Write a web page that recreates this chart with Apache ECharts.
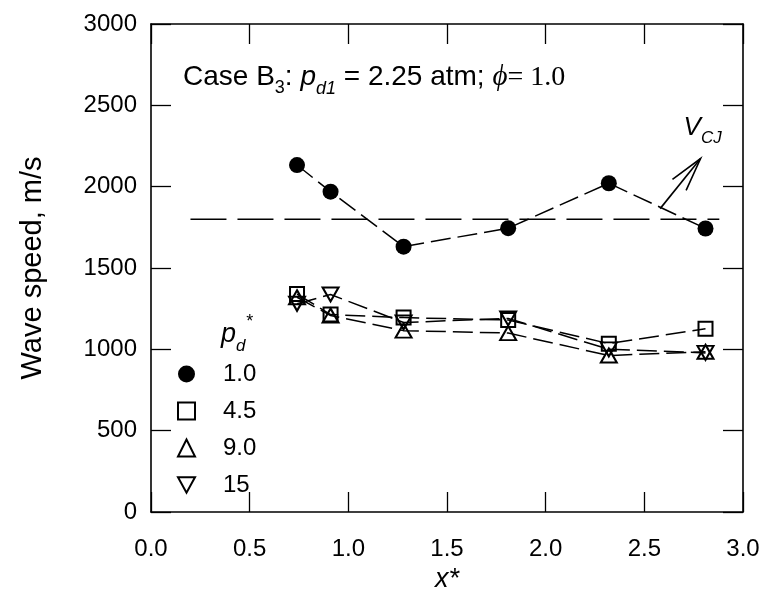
<!DOCTYPE html>
<html><head><meta charset="utf-8">
<script src="https://cdn.jsdelivr.net/npm/echarts@6/dist/echarts.min.js"></script>
<style>html,body{margin:0;padding:0;background:#fff}#c{width:763px;height:596px}</style>
</head><body><div id="c"></div>
<script>
// ---- data ----
const xStar  = [0.74, 0.91, 1.28, 1.81, 2.32, 2.81];
const pd1_0  = [2133, 1969, 1631, 1745, 2021, 1743];
const pd4_5  = [1340, 1214, 1195, 1180, 1035, 1127];
const pd9_0  = [1320, 1208, 1115, 1100, 962, 985];
const pd15   = [1280, 1337, 1165, 1190, 1000, 978];
const legendNames = ['1.0', '4.5', '9.0', '15'];
const vcjX = [0.2, 2.88];
const vcjValue = 1800;
const arrowFrom = [2.58, 1865];
const arrowTo = [2.785, 2173];
const xMin = 0, xMax = 3, xStep = 0.5;
const yMin = 0, yMax = 3000, yStep = 500;

const FONT = 'Liberation Sans, Arial, Helvetica, sans-serif';
const SERIF = 'Liberation Serif, Times New Roman, serif';
const downTri = 'path://M0,0 L10,0 L5,9 Z';

function pts(ys) { return xStar.map((x, i) => [x, ys[i]]); }

const chart = echarts.init(document.getElementById('c'), null, {renderer: 'canvas'});

function axisCommon() {
  return {
    axisLine: {show: true, onZero: false, lineStyle: {color: '#000', width: 1.6}},
    axisTick: {show: true, inside: true, length: 20, lineStyle: {color: '#000', width: 1.3}},
    splitLine: {show: false}
  };
}

function lineSeries(name, ys, symbol, size, filled) {
  return {
    name, type: 'line', data: pts(ys), symbol, symbolSize: size,
    showSymbol: true,
    itemStyle: filled ? {color: '#000', borderColor: '#000', borderWidth: 0}
                      : {color: 'rgba(255,255,255,0)', borderColor: '#000', borderWidth: 2},
    lineStyle: {color: '#000', width: 1.5, type: [20, 7]},
    emphasis: {disabled: true},
    z: 3
  };
}

const option = {
  animation: false,
  backgroundColor: '#fff',
  grid: {left: 151, right: 20, top: 24, bottom: 84, containLabel: false, outerBoundsMode: 'none'},
  xAxis: [
    Object.assign({
      type: 'value', min: xMin, max: xMax, interval: xStep, position: 'bottom',
      axisLabel: {color: '#000', fontSize: 24, fontFamily: FONT, margin: 25,
                  formatter: v => v.toFixed(1)},
      name: 'x*', nameLocation: 'middle', nameGap: 54,
      nameTextStyle: {color: '#000', fontSize: 27, fontStyle: 'italic', fontFamily: FONT}
    }, axisCommon()),
    Object.assign({
      type: 'value', min: xMin, max: xMax, interval: xStep, position: 'top',
      axisLabel: {show: false}
    }, axisCommon())
  ],
  yAxis: [
    Object.assign({
      type: 'value', min: yMin, max: yMax, interval: yStep, position: 'left',
      axisLabel: {color: '#000', fontSize: 24, fontFamily: FONT, margin: 14,
                  formatter: v => String(v)},
      name: 'Wave speed, m/s', nameLocation: 'middle', nameGap: 104, nameRotate: 90,
      nameTextStyle: {color: '#000', fontSize: 29, fontFamily: FONT}
    }, axisCommon()),
    Object.assign({
      type: 'value', min: yMin, max: yMax, interval: yStep, position: 'right',
      axisLabel: {show: false}
    }, axisCommon())
  ],
  legend: {
    orient: 'vertical', left: 172, top: 357,
    itemWidth: 17, itemHeight: 17, itemGap: 13,
    selectedMode: false,
    textStyle: {color: '#000', fontSize: 24, fontFamily: FONT, padding: [0, 0, 0, 23], lineHeight: 24},
    data: [
      {name: legendNames[0], icon: 'circle'},
      {name: legendNames[1], icon: 'rect'},
      {name: legendNames[2], icon: 'triangle'},
      {name: legendNames[3], icon: downTri}
    ]
  },
  series: [
    lineSeries(legendNames[0], pd1_0, 'circle', 16, true),
    lineSeries(legendNames[1], pd4_5, 'rect', 14, false),
    lineSeries(legendNames[2], pd9_0, 'triangle', [16, 14], false),
    lineSeries(legendNames[3], pd15, downTri, [16, 14], false),
    {
      name: 'VCJ', type: 'line', data: vcjX.map(x => [x, vcjValue]),
      symbol: 'none', lineStyle: {color: '#000', width: 1.5, type: [36, 11]},
      emphasis: {disabled: true}, z: 2
    }
  ]
};
chart.setOption(option);

// ---- annotations placed from data coordinates ----
const p0 = chart.convertToPixel({gridIndex: 0}, arrowFrom);
const p1 = chart.convertToPixel({gridIndex: 0}, arrowTo);
const dx = p1[0] - p0[0], dy = p1[1] - p0[1];
const len = Math.hypot(dx, dy);
const ux = dx / len, uy = dy / len;
const arm = 35, ang = 14.5 * Math.PI / 180;
function rot(x, y, a) { return [x * Math.cos(a) - y * Math.sin(a), x * Math.sin(a) + y * Math.cos(a)]; }
const a1 = rot(-ux, -uy, ang), a2 = rot(-ux, -uy, -ang);
const h1 = [p1[0] + a1[0] * arm, p1[1] + a1[1] * arm];
const h2 = [p1[0] + a2[0] * arm, p1[1] + a2[1] * arm];

chart.setOption({
  graphic: [
    {type: 'line', shape: {x1: p0[0], y1: p0[1], x2: p1[0], y2: p1[1]},
     style: {stroke: '#000', lineWidth: 1.6}, z: 10},
    {type: 'polyline', shape: {points: [h1, p1, h2]},
     style: {stroke: '#000', lineWidth: 1.6, fill: null}, z: 10},
    {type: 'text', left: p1[0] - 17, top: p1[1] - 44, z: 10,
     style: {
       text: '{v|V}{s|CJ}', fill: '#000',
       rich: {
         v: {fontSize: 26, fontStyle: 'italic', fontFamily: FONT, lineHeight: 30, verticalAlign: 'top'},
         s: {fontSize: 17, fontStyle: 'italic', fontFamily: FONT, lineHeight: 32, verticalAlign: 'bottom'}
       }
     }},
    {type: 'text', left: 183, top: 63, z: 10,
     style: {
       text: '{n|Case B}{sub|3}{n|: }{i|p}{isub|d1}{n| = 2.25 atm; }{phi|\u03d5}{sr|= 1.0}',
       fill: '#000',
       rich: {
         n: {fontSize: 28, fontFamily: FONT, lineHeight: 30, verticalAlign: 'middle'},
         sub: {fontSize: 18, fontFamily: FONT, lineHeight: 40, verticalAlign: 'bottom'},
         i: {fontSize: 28, fontFamily: FONT, fontStyle: 'italic', lineHeight: 30, verticalAlign: 'middle'},
         isub: {fontSize: 18, fontFamily: FONT, fontStyle: 'italic', lineHeight: 40, verticalAlign: 'bottom'},
         phi: {fontSize: 29, fontFamily: SERIF, fontStyle: 'italic', lineHeight: 30, verticalAlign: 'middle'},
         sr: {fontSize: 28, fontFamily: SERIF, lineHeight: 30, verticalAlign: 'middle'}
       }
     }},
    {type: 'text', left: 221, top: 313, z: 10,
     style: {
       text: '{p|p}{d|d}{st|*}', fill: '#000',
       rich: {
         p: {fontSize: 27, fontFamily: FONT, fontStyle: 'italic', lineHeight: 32, verticalAlign: 'middle'},
         d: {fontSize: 17, fontFamily: FONT, fontStyle: 'italic', lineHeight: 42, verticalAlign: 'bottom'},
         st: {fontSize: 18, fontFamily: FONT, fontStyle: 'italic', lineHeight: 28, verticalAlign: 'top'}
       }
     }}
  ]
});
</script>
</body></html>
